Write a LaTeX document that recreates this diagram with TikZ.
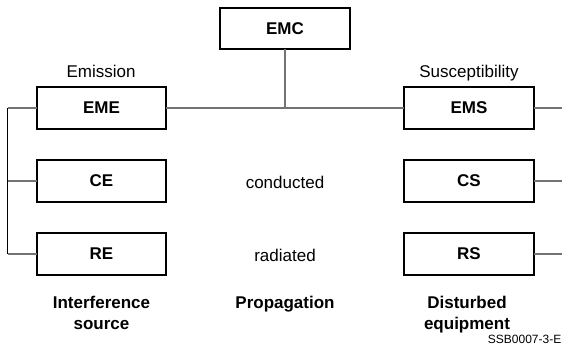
\documentclass[tikz,border=0pt]{standalone}
\usepackage{fontspec}
\setmainfont{Liberation Sans}
\begin{document}
\begin{tikzpicture}[x=1pt,y=-1pt,
  box/.style={draw=black,line width=2.4pt,minimum width=129.5pt,minimum height=41.5pt,inner sep=0pt,outer sep=0pt,font=\fontsize{17}{20}\selectfont\bfseries},
  lbl/.style={anchor=base,inner sep=0pt,font=\fontsize{17}{20}\selectfont},
  blbl/.style={anchor=base,inner sep=0pt,font=\fontsize{17}{20}\selectfont\bfseries},
  conn/.style={draw=black!55,line width=1.2pt},
  connv/.style={draw=black,line width=1pt}]
\useasboundingbox (0,0) rectangle (562,354);
\fill[white] (0,0) rectangle (562,354);
% boxes
\node[box] (emc) at (285,28.5) {EMC};
\node[box] (eme) at (101.5,108) {EME};
\node[box] (ce) at (101.5,181) {CE};
\node[box] (re) at (101.5,254) {RE};
\node[box] (ems) at (469,108) {EMS};
\node[box] (cs) at (469,181) {CS};
\node[box] (rs) at (469,254) {RS};
% junction coordinates
\coordinate (j) at (285,108);
\coordinate (lt) at (7.5,108);
\coordinate (lc) at (7.5,181);
\coordinate (lb) at (7.5,254);
\coordinate (rt) at (562,108);
\coordinate (rc) at (562,181);
\coordinate (rb) at (562,254);
% connectors
\draw[conn] (emc.south) -- (j);
\draw[conn] (eme.east) -- (ems.west);
\draw[conn] (ems.east) -- (rt);
\draw[conn] (cs.east) -- (rc);
\draw[conn] (rs.east) -- (rb);
\draw[conn] (lt) -- (eme.west);
\draw[conn] (lc) -- (ce.west);
\draw[conn] (lb) -- (re.west);
\draw[connv] (lt) -- (lb);
% labels
\node[lbl] (emis) at (101,77) {Emission};
\node[lbl] (susc) at (469,77) {Susceptibility};
\node[lbl] (cond) at (285,188.5) {conducted};
\node[lbl] (rad) at (285,261.5) {radiated};
\node[blbl] (is1) at (101.5,308.5) {Interference};
\node[blbl] (is2) at (101.5,329) {source};
\node[blbl] (prop) at (285,308.5) {Propagation};
\node[blbl] (de1) at (467,308.5) {Disturbed};
\node[blbl] (de2) at (467,329) {equipment};
\node[anchor=base east,inner sep=0pt,font=\fontsize{12}{14}\selectfont] (ref) at (561.5,343.5) {SSB0007-3-E};
\end{tikzpicture}
\end{document}
